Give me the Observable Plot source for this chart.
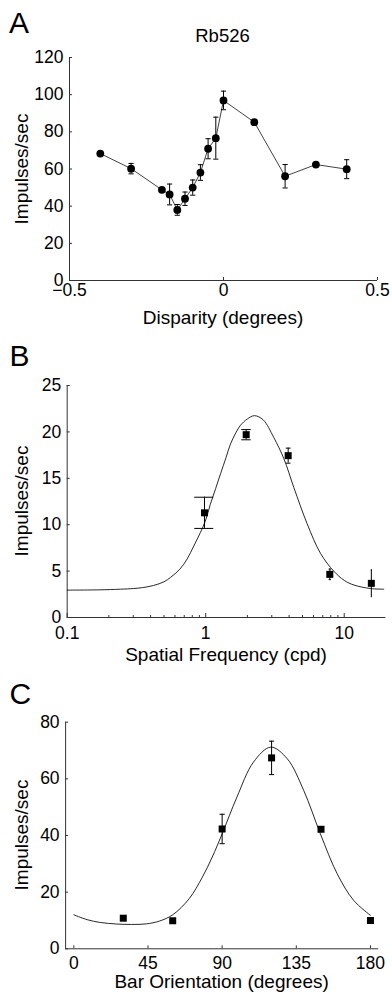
<!DOCTYPE html>
<html>
<head>
<meta charset="utf-8">
<script src="https://cdn.jsdelivr.net/npm/d3@7"></script>
<script src="https://cdn.jsdelivr.net/npm/@observablehq/plot@0.6"></script>
<style>
  html, body { margin: 0; padding: 0; background: #fff; }
  #fig { position: relative; width: 392px; height: 999px; overflow: hidden; background: #fff;
         font-family: "Liberation Sans", Arial, Helvetica, sans-serif; color: #000; }
  .t { position: absolute; white-space: nowrap; line-height: 1; }
  .c { transform: translateX(-50%); }
  .r { transform: translate(-50%, -50%) rotate(-90deg); }
</style>
</head>
<body>
<div id="fig"></div>
<script>
// ---------------- Panel A: disparity tuning ----------------
const dispX   = [-0.4, -0.3, -0.2, -0.175, -0.15, -0.125, -0.1, -0.075, -0.05, -0.025, 0, 0.1, 0.2, 0.3, 0.4];
const dispY   = [68.3, 60.2, 48.8, 46.3, 38.0, 44.0, 50.0, 58.1, 70.9, 76.6, 96.9, 85.2, 56.1, 62.4, 59.9];
const dispErr = [0, 2.8, 0, 5.6, 2.9, 3.6, 4.1, 4.2, 5.4, 11.3, 5.0, 0, 6.3, 0, 5.1];
const dispXTicks = [-0.5, 0, 0.5];
const dispXTickLabels = ["\u22120.5", "0", "0.5"];
const dispYTicks = [0, 20, 40, 60, 80, 100, 120];

// ---------------- Panel B: spatial frequency tuning ----------------
const sfX   = [0.98, 1.96, 3.94, 7.87, 15.7];
const sfY   = [11.28, 19.7, 17.44, 4.65, 3.68];
const sfErr = [1.68, 0.55, 0.81, 0.57, 1.44];
const sfFitX = [0.1, 0.17, 0.243, 0.3, 0.35, 0.42, 0.5, 0.557, 0.65, 0.734, 0.82, 0.917, 1.0, 1.08, 1.18, 1.28, 1.4, 1.51, 1.65, 1.78, 2.0, 2.25, 2.6, 3.1, 3.67, 4.33, 5.4, 6.75, 8.4, 10.0, 11.75, 15.5, 19.3];
const sfFitY = [2.95, 2.98, 3.05, 3.12, 3.22, 3.45, 3.85, 4.32, 5.2, 6.3, 7.7, 9.18, 10.5, 12.2, 13.9, 15.5, 17.2, 18.7, 19.9, 20.7, 21.4, 21.75, 21.3, 19.4, 17.1, 14.0, 10.1, 6.9, 5.0, 4.0, 3.5, 3.12, 3.05];
const sfMajorTicks = [0.1, 1, 10];
const sfTickLabels = ["0.1", "1", "10"];
const sfMinorTicks = [0.2, 0.3, 0.4, 0.5, 0.6, 0.7, 0.8, 0.9, 2, 3, 4, 5, 6, 7, 8, 9];
const sfYTicks = [0, 5, 10, 15, 20, 25];

// ---------------- Panel C: orientation tuning ----------------
const orX   = [30, 60, 90, 120, 150, 180];
const orY   = [10.8, 9.9, 42.3, 67.4, 42.2, 10.0];
const orErr = [0, 0, 5.2, 5.9, 0, 0];
const orFitX = [0, 8, 16, 26, 35, 44, 52, 60, 70, 78, 84, 90, 99, 109, 119.5, 129.5, 139.5, 149.6, 159.8, 169.8, 180];
const orFitY = [12.0, 10.3, 9.3, 8.75, 8.6, 8.8, 9.8, 12.0, 17.7, 25.3, 32.4, 40.6, 53.6, 65.9, 71.2, 67.1, 55.9, 40.6, 26.5, 17.1, 11.8];
const orXTicks = [0, 45, 90, 135, 180];
const orYTicks = [0, 20, 40, 60, 80];

// ---------------- helpers ----------------
const W = 392;
const FONT = '"Liberation Sans", Arial, Helvetica, sans-serif';
const AX = "#333";
const fig = document.getElementById("fig");

function zipData(xs, ys, es) { return xs.map((x, i) => ({x, y: ys[i], e: es ? es[i] : 0})); }

function addText(txt, {left, top, size, cls = ""}) {
  const d = document.createElement("div");
  d.className = "t " + cls;
  d.textContent = txt;
  d.style.left = left + "px";
  d.style.top = top + "px";
  d.style.fontSize = size + "px";
  fig.appendChild(d);
}

function addPlot({top, height, mt, mb, ml, mr, x, y, marks}) {
  const svg = Plot.plot({
    width: W, height,
    marginTop: mt, marginBottom: mb, marginLeft: ml, marginRight: mr,
    x: {...x, label: null}, y: {...y, label: null},
    style: {fontFamily: FONT, fontSize: "17.5px", color: "#000", background: "transparent", overflow: "visible"},
    marks
  });
  svg.style.position = "absolute";
  svg.style.left = "0px";
  svg.style.top = top + "px";
  fig.appendChild(svg);
}

function axisMarks({xMin, yMin, xTicks, yTicks, innerW, innerH, xTickLen = 3, xPad, yPad = 6, xFmt}) {
  return [
    Plot.ruleY([yMin], {stroke: AX, strokeWidth: 1}),
    Plot.ruleX([xMin], {stroke: AX, strokeWidth: 1}),
    Plot.tickY(yTicks, {y: d => d, insetRight: innerW - 3, stroke: AX}),
    Plot.tickX(xTicks, {x: d => d, insetTop: innerH - xTickLen, stroke: AX}),
    Plot.axisY({ticks: yTicks, tickSize: 0, tickPadding: yPad, label: null}),
    Plot.axisX({ticks: xTicks, tickSize: 0, tickPadding: xPad, label: null, tickFormat: xFmt})
  ];
}

// ---------------- Panel A ----------------
{
  const top = 0, height = 300, mt = 57, mb = 20, ml = 69, mr = 15;
  const innerW = W - ml - mr, innerH = height - mt - mb;
  const data = zipData(dispX, dispY, dispErr);
  const eb = data.filter(d => d.e > 0);
  const cap = 2.6 * 1 / innerW; // half cap width in data units (domain span = 1)
  addPlot({
    top, height, mt, mb, ml, mr,
    x: {domain: [-0.5, 0.5]},
    y: {domain: [0, 120]},
    marks: [
      ...axisMarks({xMin: -0.5, yMin: 0, xTicks: dispXTicks, yTicks: dispYTicks, innerW, innerH, xPad: 3,
                    xFmt: d => dispXTickLabels[dispXTicks.indexOf(d)]}),
      Plot.line(data, {x: "x", y: "y", stroke: "#111", strokeWidth: 0.8}),
      Plot.ruleX(eb, {x: "x", y1: d => d.y - d.e, y2: d => d.y + d.e, stroke: "#000", strokeWidth: 1}),
      Plot.link(eb, {x1: d => d.x - cap, x2: d => d.x + cap, y1: d => d.y + d.e, y2: d => d.y + d.e, stroke: "#000", strokeWidth: 1}),
      Plot.link(eb, {x1: d => d.x - cap, x2: d => d.x + cap, y1: d => d.y - d.e, y2: d => d.y - d.e, stroke: "#000", strokeWidth: 1}),
      Plot.dot(data, {x: "x", y: "y", r: 3.9, fill: "#000", stroke: "none"})
    ]
  });
  addText("A", {left: 9, top: 7.9, size: 30});
  addText("Rb526", {left: 222.5, top: 27.0, size: 18.5, cls: "c"});
  addText("Disparity (degrees)", {left: 223, top: 307.5, size: 19, cls: "c"});
  addText("Impulses/sec", {left: 21, top: 168.5, size: 19, cls: "r"});
}

// ---------------- Panel B ----------------
{
  const top = 330, height = 320, mt = 55, mb = 33, ml = 66.7, mr = 6.6;
  const innerW = W - ml - mr, innerH = height - mt - mb;
  const data = zipData(sfX, sfY, sfErr);
  const fit = zipData(sfFitX, sfFitY);
  const cap = 0.154; // linear half cap width in cpd
  addPlot({
    top, height, mt, mb, ml, mr,
    x: {type: "log", domain: [0.1, 20]},
    y: {domain: [0, 25]},
    marks: [
      ...axisMarks({xMin: 0.1, yMin: 0, xTicks: sfMajorTicks, yTicks: sfYTicks, innerW, innerH, xTickLen: 4, xPad: 9,
                    xFmt: d => sfTickLabels[sfMajorTicks.indexOf(d)]}),
      Plot.tickX(sfMinorTicks, {x: d => d, insetTop: innerH - 2, stroke: AX}),
      Plot.line(fit, {x: "x", y: "y", curve: "catmull-rom", stroke: "#111", strokeWidth: 0.9}),
      Plot.ruleX(data, {x: "x", y1: d => d.y - d.e, y2: d => d.y + d.e, stroke: "#000", strokeWidth: 1}),
      Plot.link(data, {x1: d => d.x - cap, x2: d => d.x + cap, y1: d => d.y + d.e, y2: d => d.y + d.e, stroke: "#000", strokeWidth: 1}),
      Plot.link(data, {x1: d => d.x - cap, x2: d => d.x + cap, y1: d => d.y - d.e, y2: d => d.y - d.e, stroke: "#000", strokeWidth: 1}),
      Plot.dot(data, {x: "x", y: "y", symbol: "square", r: 3.95, fill: "#000", stroke: "none"})
    ]
  });
  addText("B", {left: 9.5, top: 341.1, size: 30});
  addText("Spatial Frequency (cpd)", {left: 226, top: 645.2, size: 19, cls: "c"});
  addText("Impulses/sec", {left: 21, top: 500.8, size: 19, cls: "r"});
}

// ---------------- Panel C ----------------
{
  const top = 660, height = 320, mt = 61.7, mb = 31.7, ml = 65.1, mr = 13.8;
  const innerW = W - ml - mr, innerH = height - mt - mb;
  const data = zipData(orX, orY, orErr);
  const eb = data.filter(d => d.e > 0);
  const fit = zipData(orFitX, orFitY);
  const cap = 2.6 * 190 / innerW; // half cap width in degrees (domain span = 190)
  addPlot({
    top, height, mt, mb, ml, mr,
    x: {domain: [-5, 185]},
    y: {domain: [0, 80]},
    marks: [
      ...axisMarks({xMin: -5, yMin: 0, xTicks: orXTicks, yTicks: orYTicks, innerW, innerH, xPad: 7.5,
                    xFmt: d => String(d)}),
      Plot.line(fit, {x: "x", y: "y", curve: "catmull-rom", stroke: "#111", strokeWidth: 0.9}),
      Plot.ruleX(eb, {x: "x", y1: d => d.y - d.e, y2: d => d.y + d.e, stroke: "#000", strokeWidth: 1}),
      Plot.link(eb, {x1: d => d.x - cap, x2: d => d.x + cap, y1: d => d.y + d.e, y2: d => d.y + d.e, stroke: "#000", strokeWidth: 1}),
      Plot.link(eb, {x1: d => d.x - cap, x2: d => d.x + cap, y1: d => d.y - d.e, y2: d => d.y - d.e, stroke: "#000", strokeWidth: 1}),
      Plot.dot(data, {x: "x", y: "y", symbol: "square", r: 3.95, fill: "#000", stroke: "none"})
    ]
  });
  addText("C", {left: 9.5, top: 679.1, size: 30});
  addText("Bar Orientation (degrees)", {left: 221.6, top: 972, size: 19, cls: "c"});
  addText("Impulses/sec", {left: 21, top: 835, size: 19, cls: "r"});
}
</script>
</body>
</html>
